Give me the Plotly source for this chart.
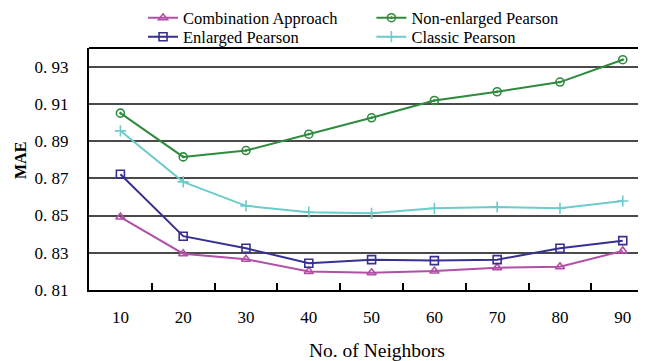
import plotly.graph_objects as go

neighbors = ["10", "20", "30", "40", "50", "60", "70", "80", "90"]
combination = [0.8492, 0.8295, 0.8265, 0.8200, 0.8193, 0.8202, 0.8220, 0.8225, 0.8310]
non_enlarged = [0.9050, 0.8815, 0.8849, 0.8937, 0.9025, 0.9118, 0.9165, 0.9217, 0.9337]
enlarged = [0.8722, 0.8389, 0.8324, 0.8244, 0.8263, 0.8258, 0.8263, 0.8324, 0.8365]
classic = [0.8955, 0.8681, 0.8552, 0.8518, 0.8512, 0.8539, 0.8546, 0.8539, 0.8578]

y_ticks = [0.81, 0.83, 0.85, 0.87, 0.89, 0.91, 0.93]
y_ticktext = ["0. 81", "0. 83", "0. 85", "0. 87", "0. 89", "0. 91", "0. 93"]

FONT = "'Liberation Serif', 'Times New Roman', 'DejaVu Serif', serif"
W, H = 638, 353  # page body adds an 8px margin

fig = go.Figure()
series = [
    ("Combination Approach", combination, "#b24fa6", "triangle-up-open", "legend", 0.097, 10),
    ("Non-enlarged Pearson", non_enlarged, "#2e8a3d", "circle-open-dot", "legend2", 0.507, 10),
    ("Enlarged Pearson", enlarged, "#363190", "square-open", "legend3", 0.097, 29),
    ("Classic Pearson", classic, "#6dcbcb", "cross-thin", "legend4", 0.507, 29),
]
legends = {}
for name, vals, color, sym, lg, lx, ly in series:
    fig.add_trace(go.Scatter(
        x=neighbors, y=vals, name=name, mode="lines+markers",
        line=dict(color=color, width=2),
        marker=dict(symbol=sym, size=8, color=color, line=dict(color=color, width=1.6)),
        legend=lg,
    ))
    legends[lg] = dict(x=lx, y=1 - ly / H, xref="paper", yref="container",
                       xanchor="left", yanchor="middle", orientation="v",
                       font=dict(size=16.5, family=FONT), bgcolor="rgba(0,0,0,0)")

fig.update_layout(
    width=W, height=H,
    margin=dict(l=81, r=0, t=40, b=71, autoexpand=False),
    paper_bgcolor="white", plot_bgcolor="white",
    font=dict(family=FONT, size=17, color="black"),
    showlegend=True,
    xaxis=dict(
        type="category", range=[-0.5, 8.37], tickson="boundaries",
        ticks="inside", ticklen=7, tickwidth=1.5, tickcolor="black",
        showline=True, linecolor="black", linewidth=2,
        showgrid=False, ticklabelstandoff=11, automargin=False,
        tickfont=dict(size=17, family=FONT),
    ),
    yaxis=dict(
        range=[0.81, 0.94], tickvals=y_ticks, ticktext=y_ticktext,
        showline=True, linecolor="black", linewidth=2,
        showgrid=True, gridcolor="#4a4a4a", gridwidth=1.5,
        ticks="", ticklabelstandoff=15, automargin=False,
        zeroline=False,
        tickfont=dict(size=17, family=FONT),
    ),
    shapes=[dict(type="line", xref="paper", yref="paper", x0=0, x1=1, y0=1, y1=1,
                 line=dict(color="black", width=2))],
    annotations=[
        dict(text="No. of Neighbors", xref="paper", yref="paper", x=0.517, y=-0.248,
             xanchor="center", yanchor="middle", showarrow=False,
             font=dict(size=19.5, family=FONT)),
        dict(text="<b>MAE</b>", xref="paper", yref="paper", x=-0.124, y=0.537,
             xanchor="center", yanchor="middle", textangle=-90, showarrow=False,
             font=dict(size=16, family=FONT)),
    ],
    **legends,
)

fig.write_html("out.html")
